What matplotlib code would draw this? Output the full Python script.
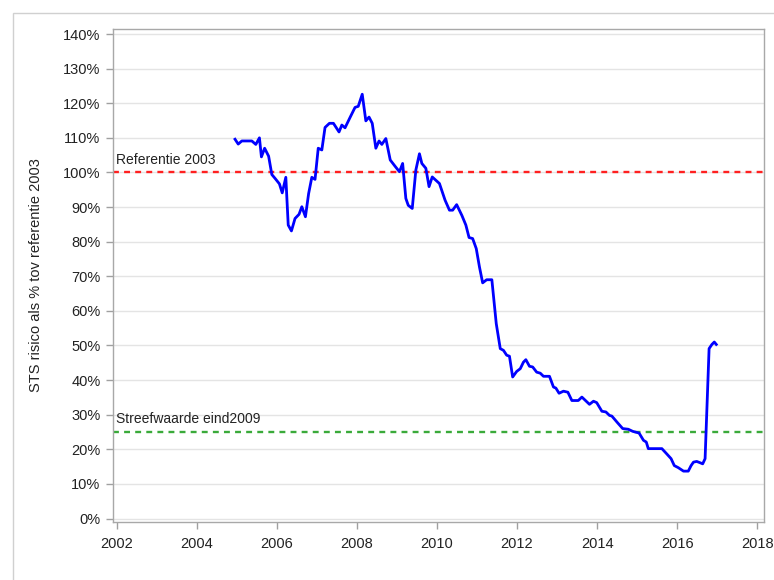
import matplotlib
matplotlib.use("Agg")
import matplotlib.pyplot as plt
from matplotlib.patches import Rectangle
from matplotlib.ticker import FuncFormatter

plt.rcParams['font.family'] = ['Liberation Sans', 'DejaVu Sans']

years = [
    2004.95, 2005.03, 2005.12, 2005.25, 2005.37, 2005.47, 2005.56, 2005.61, 2005.69, 2005.79,
    2005.87, 2005.95, 2006.06, 2006.13, 2006.22, 2006.28, 2006.36, 2006.45, 2006.55, 2006.62,
    2006.71, 2006.79, 2006.87, 2006.95, 2007.03, 2007.12, 2007.20, 2007.31, 2007.41, 2007.55,
    2007.62, 2007.70, 2007.83, 2007.95, 2008.03, 2008.13, 2008.22, 2008.30, 2008.38, 2008.47,
    2008.55, 2008.62, 2008.72, 2008.83, 2008.95, 2009.06, 2009.14, 2009.22, 2009.28, 2009.38,
    2009.47, 2009.56, 2009.62, 2009.72, 2009.80, 2009.88, 2010.06, 2010.20, 2010.31, 2010.39,
    2010.49, 2010.62, 2010.72, 2010.80, 2010.89, 2010.98, 2011.06, 2011.14, 2011.24, 2011.37,
    2011.48, 2011.58, 2011.66, 2011.74, 2011.81, 2011.89, 2011.99, 2012.08, 2012.16, 2012.22,
    2012.31, 2012.39, 2012.49, 2012.58, 2012.66, 2012.81, 2012.91, 2012.97, 2013.05, 2013.16,
    2013.27, 2013.37, 2013.53, 2013.62, 2013.81, 2013.91, 2013.99, 2014.12, 2014.22, 2014.31,
    2014.37, 2014.51, 2014.64, 2014.78, 2014.89, 2015.05, 2015.16, 2015.23, 2015.28, 2015.62,
    2015.74, 2015.85, 2015.93, 2016.03, 2016.16, 2016.28, 2016.35, 2016.41, 2016.49, 2016.58,
    2016.64, 2016.70, 2016.80, 2016.87, 2016.93, 2016.98,
]
sts_pct = [
    109.6, 108.2, 109.1, 109.1, 109.1, 108.1, 110.0, 104.5, 107.0, 104.7,
    99.4, 98.3, 96.7, 94.1, 98.6, 84.8, 83.1, 86.7, 87.9, 90.1,
    87.2, 93.9, 98.6, 98.0, 107.0, 106.5, 113.0, 114.2, 114.2, 111.7,
    113.7, 112.9, 116.0, 118.8, 119.1, 122.6, 114.9, 116.0, 114.2, 107.0,
    109.1, 108.1, 109.8, 103.6, 101.8, 100.2, 102.6, 92.5, 90.5, 89.6,
    100.7, 105.4, 102.6, 101.2, 95.9, 98.7, 96.8, 92.0, 89.1, 89.1,
    90.7, 87.6, 84.8, 81.2, 80.9, 78.0, 72.7, 68.1, 69.0, 69.0,
    56.3, 49.1, 48.6, 47.2, 46.9, 40.9, 42.5, 43.3, 45.2, 45.9,
    44.0, 43.8, 42.3, 42.0, 41.1, 41.1, 38.0, 37.7, 36.2, 36.8,
    36.5, 34.1, 34.1, 35.1, 33.0, 33.9, 33.5, 31.0, 30.8, 29.8,
    29.6, 27.7, 26.0, 25.8, 25.2, 24.7, 22.6, 22.1, 20.2, 20.2,
    18.7, 17.3, 15.3, 14.7, 13.7, 13.7, 15.3, 16.3, 16.5, 16.1,
    15.8, 17.3, 49.1, 50.3, 51.0, 50.3,
]

ref_value = 100
ref_label = "Referentie 2003"
target_value = 25
target_label = "Streefwaarde eind2009"
y_label = "STS risico als % tov referentie 2003"
x_ticks = [2002, 2004, 2006, 2008, 2010, 2012, 2014, 2016, 2018]
y_ticks = list(range(0, 141, 10))

fig = plt.figure(figsize=(7.74, 5.8), dpi=100)
fig.patches.append(Rectangle((13 / 774, -0.1), 1.2, 1 - 13 / 580 + 0.1,
                             transform=fig.transFigure, fill=False,
                             edgecolor='#d0d0d0', linewidth=1.0))
ax = fig.add_axes([113 / 774, 1 - 522 / 580, (763.5 - 113) / 774, (522 - 29) / 580])

ax.set_xlim(2001.9, 2018.16)
ax.set_ylim(-1.0, 141.45)

for yt in y_ticks:
    ax.axhline(yt, color='#e4e4e4', linewidth=1.0, zorder=0)

ax.axhline(ref_value, color='#ff2020', linestyle=(0, (2.5, 2.2)), linewidth=1.7, zorder=2)
ax.axhline(target_value, color='#3aaa3a', linestyle=(0, (2.5, 2.2)), linewidth=1.7, zorder=2)
ax.plot(years, sts_pct, color='#0000ff', linewidth=2.0, zorder=3)

ax.annotate(ref_label, xy=(2001.98, ref_value), xytext=(0, 4), textcoords='offset points',
            ha='left', va='bottom', fontsize=10, color='#222222')
ax.annotate(target_label, xy=(2001.98, target_value), xytext=(0, 4), textcoords='offset points',
            ha='left', va='bottom', fontsize=10, color='#222222')

ax.set_xticks(x_ticks)
ax.set_yticks(y_ticks)
ax.yaxis.set_major_formatter(FuncFormatter(lambda v, p: f"{int(v)}%"))
ax.tick_params(axis='both', direction='out', length=5, width=1, color='#a0a0a0',
               labelsize=10.5, labelcolor='#222222')
ax.tick_params(axis='x', pad=6)
ax.tick_params(axis='y', pad=4)

for s in ax.spines.values():
    s.set_color('#a8a8a8')
    s.set_linewidth(1.0)

ax.set_ylabel(y_label, fontsize=10.5, color='#222222')
ax.yaxis.set_label_coords(-0.108, 0.5)

fig.savefig("out.png", dpi=100)
